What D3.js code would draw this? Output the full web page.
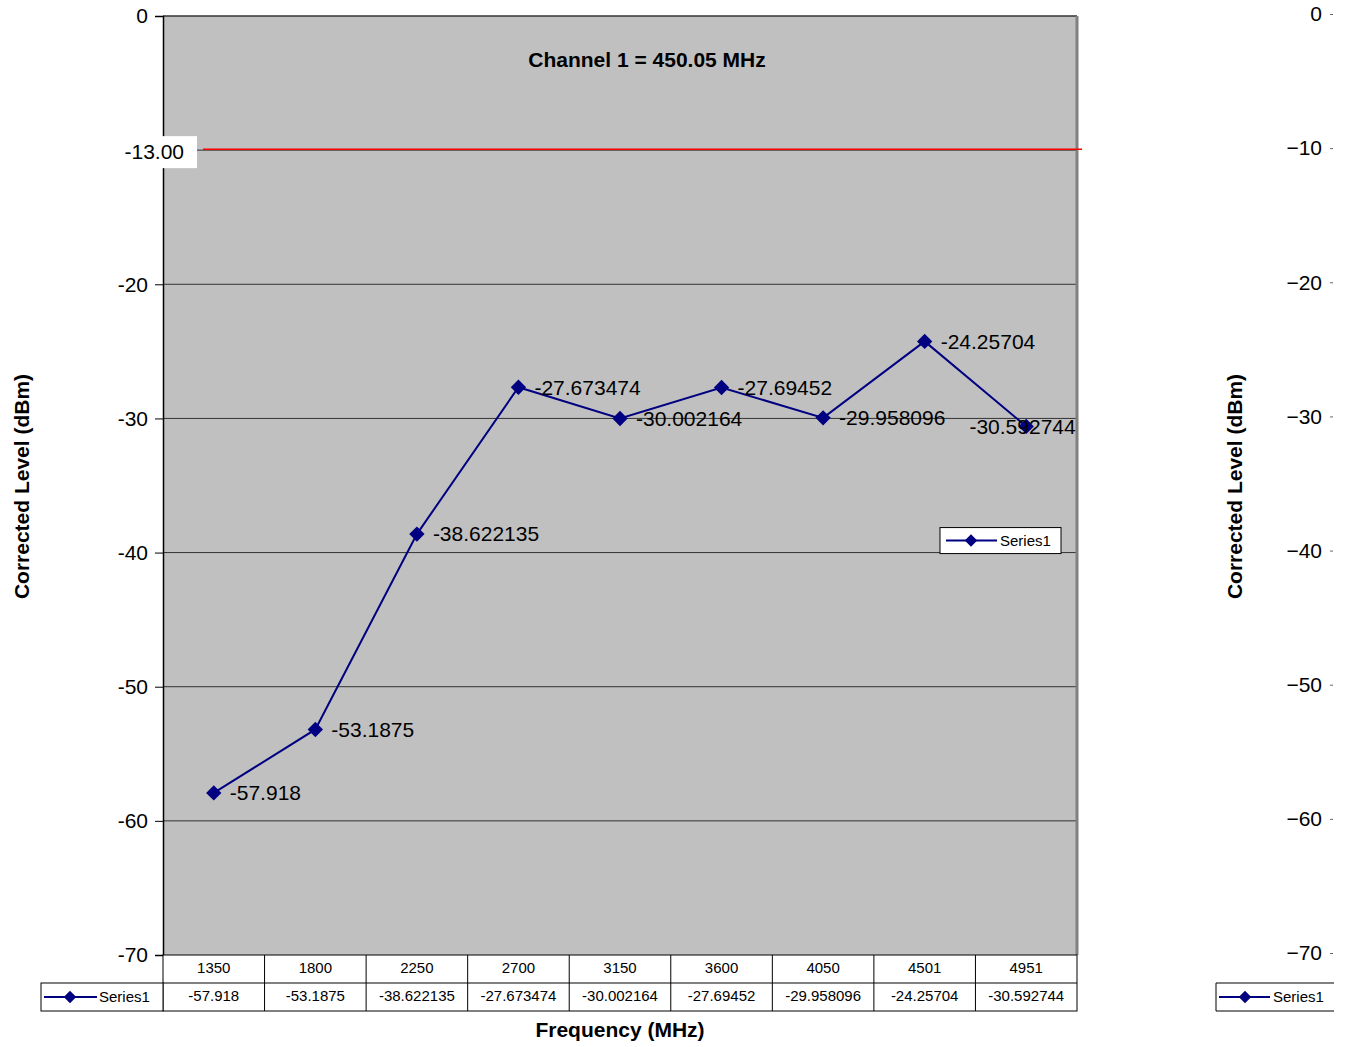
<!DOCTYPE html>
<html>
<head>
<meta charset="utf-8">
<script src="https://cdn.jsdelivr.net/npm/d3@7"></script>
<style>
  body { margin: 0; background: #fff; }
  text { font-family: "Liberation Sans", Arial, sans-serif; }
</style>
</head>
<body>
<script>
// chart data
var frequencies = ["1350", "1800", "2250", "2700", "3150", "3600", "4050", "4501", "4951"]
var levels = [-57.918, -53.1875, -38.622135, -27.673474, -30.002164, -27.69452, -29.958096, -24.25704, -30.592744]
var levelLabels = ["-57.918", "-53.1875", "-38.622135", "-27.673474", "-30.002164", "-27.69452", "-29.958096", "-24.25704", "-30.592744"]
var yTicks = [0, -10, -20, -30, -40, -50, -60, -70]
var limitTick = -10          // tick where the limit line sits
var limitLabel = "-13.00"
var seriesName = "Series1"
var chartTitle = "Channel 1 = 450.05 MHz"

var W = 1347, H = 1047
var margin = {top: 16, left: 163, right: 270, bottom: 92}
var width = W - margin.left - margin.right,
    height = H - margin.top - margin.bottom

var navy = "#000080"
var big = "21px", small = "15px"

var svg = d3.select("body").append("svg")
    .attr("width", W).attr("height", H)

var g = svg.append("g")
    .attr("transform", "translate(" + margin.left + "," + margin.top + ")")

var x = d3.scaleBand().domain(frequencies).range([0, width])
var y = d3.scaleLinear().domain([-70, 0]).range([height, 0])

// plot area
g.append("rect")
    .attr("width", width).attr("height", height)
    .attr("fill", "#c0c0c0")

// gridlines
g.append("g").selectAll("line")
    .data(yTicks.filter(d => d != 0 && d != -70))
    .enter().append("line")
    .attr("x1", 0).attr("x2", width)
    .attr("y1", d => y(d)).attr("y2", d => y(d))
    .attr("stroke", "#333").attr("stroke-width", 1)

// borders
g.append("line").attr("x1", 0).attr("x2", width).attr("y1", 0).attr("y2", 0)
    .attr("stroke", "#333").attr("stroke-width", 1.5)
g.append("line").attr("x1", width).attr("x2", width).attr("y1", 0).attr("y2", height)
    .attr("stroke", "#808080").attr("stroke-width", 3)

// left axis
var yAxis = d3.axisLeft(y).tickValues(yTicks).tickSize(8).tickFormat(d3.format("d"))
var ya = g.append("g").call(yAxis)
ya.select(".domain").attr("stroke", "#000").attr("stroke-width", 1.5)
ya.selectAll(".tick line").attr("stroke", "#000")
ya.selectAll(".tick text")
    .attr("x", -15)
    .style("font-size", big)
    .style("font-family", "Liberation Sans, Arial, sans-serif")
    .attr("fill", "#000")
    .text(d => d == limitTick ? "" : String(d))

// limit line + label
g.append("line")
    .attr("x1", 40).attr("x2", width + 5)
    .attr("y1", y(limitTick) - 1).attr("y2", y(limitTick) - 1)
    .attr("stroke", "#ff0000").attr("stroke-width", 1.5)
g.append("rect")
    .attr("x", -55).attr("y", y(limitTick) - 14)
    .attr("width", 89).attr("height", 32)
    .attr("fill", "#fff")
g.append("text")
    .attr("x", 21).attr("y", y(limitTick) + 2)
    .attr("dy", "0.35em")
    .attr("text-anchor", "end")
    .style("font-size", big)
    .text(limitLabel)

// title
g.append("text")
    .attr("x", width / 2 + 27).attr("y", 44)
    .attr("dy", "0.35em")
    .attr("text-anchor", "middle")
    .style("font-size", big).style("font-weight", "bold")
    .text(chartTitle)

// series line
var cx = d => x(d) + x.bandwidth() / 2
var pts = frequencies.map((f, i) => ({f: f, v: levels[i], label: levelLabels[i]}))

g.append("path")
    .datum(pts)
    .attr("fill", "none")
    .attr("stroke", navy)
    .attr("stroke-width", 2)
    .attr("d", d3.line().x(d => cx(d.f)).y(d => y(d.v)))

var diamond = d3.symbol().type(d3.symbolDiamond2).size(150)
g.selectAll(".pt").data(pts).enter().append("path")
    .attr("transform", d => "translate(" + cx(d.f) + "," + y(d.v) + ")")
    .attr("d", diamond)
    .attr("fill", navy)

// data labels
g.selectAll(".lbl").data(pts).enter().append("text")
    .style("font-size", big)
    .attr("y", d => y(d.v))
    .attr("dy", "0.35em")
    .attr("x", d => cx(d.f) + 16)
    .text(d => d.label)
    .each(function() {
        var bb = this.getBBox()
        if (bb.x + bb.width > width - 1) d3.select(this).attr("x", width - 1 - bb.width)
    })

// in-plot legend
var lg = g.append("g").attr("transform", "translate(" + (width - 137) + "," + (y(-40) - 25) + ")")
lg.append("rect").attr("width", 121).attr("height", 26)
    .attr("fill", "#fff").attr("stroke", "#000").attr("stroke-width", 1)
lg.append("line").attr("x1", 6).attr("x2", 57).attr("y1", 13).attr("y2", 13)
    .attr("stroke", navy).attr("stroke-width", 2)
lg.append("path").attr("transform", "translate(31,13)").attr("d", d3.symbol().type(d3.symbolDiamond2).size(100)).attr("fill", navy)
lg.append("text").attr("x", 60).attr("y", 13).attr("dy", "0.35em")
    .style("font-size", small).text(seriesName)

// data table
var rowH = 28
var tbl = g.append("g").attr("transform", "translate(0," + height + ")")
tbl.append("rect").attr("x", 0).attr("y", 0).attr("width", width).attr("height", rowH * 2)
    .attr("fill", "#fff").attr("stroke", "#000")
tbl.append("rect").attr("x", 41 - margin.left).attr("y", rowH).attr("width", margin.left - 41).attr("height", rowH)
    .attr("fill", "#fff").attr("stroke", "#000")
tbl.append("line").attr("x1", 0).attr("x2", width).attr("y1", rowH).attr("y2", rowH).attr("stroke", "#000")
tbl.selectAll(".vl").data(frequencies.slice(1)).enter().append("line")
    .attr("x1", d => x(d)).attr("x2", d => x(d))
    .attr("y1", 0).attr("y2", rowH * 2).attr("stroke", "#000")
tbl.selectAll(".hd").data(frequencies).enter().append("text")
    .attr("x", d => cx(d)).attr("y", rowH / 2 - 1).attr("dy", "0.35em")
    .attr("text-anchor", "middle").style("font-size", small)
    .text(d => d)
tbl.selectAll(".vv").data(pts).enter().append("text")
    .attr("x", d => cx(d.f)).attr("y", rowH * 1.5 - 1).attr("dy", "0.35em")
    .attr("text-anchor", "middle").style("font-size", small)
    .text(d => d.label)
var tl = tbl.append("g").attr("transform", "translate(" + (44 - margin.left) + "," + (rowH * 1.5) + ")")
tl.append("line").attr("x1", 0).attr("x2", 53).attr("y1", 0).attr("y2", 0).attr("stroke", navy).attr("stroke-width", 2)
tl.append("path").attr("transform", "translate(26,0)").attr("d", d3.symbol().type(d3.symbolDiamond2).size(100)).attr("fill", navy)
tl.append("text").attr("x", 55).attr("y", 0).attr("dy", "0.35em").style("font-size", small).text(seriesName)

// axis titles
svg.append("text")
    .attr("transform", "translate(29," + (margin.top + height / 2 + 1) + ") rotate(-90)")
    .attr("text-anchor", "middle")
    .style("font-size", big).style("font-weight", "bold")
    .text("Corrected Level (dBm)")
svg.append("text")
    .attr("x", 620).attr("y", 1037)
    .attr("text-anchor", "middle")
    .style("font-size", big).style("font-weight", "bold")
    .text("Frequency (MHz)")

// second (right) copy of the axis, clipped by the page edge
var r = svg.append("g").attr("transform", "translate(1333," + (margin.top - 2) + ")")
var rAxis = d3.axisLeft(y).tickValues(yTicks).tickSize(3).tickFormat(d3.format("d"))
var ra = r.call(rAxis)
ra.select(".domain").remove()
ra.selectAll(".tick line").attr("stroke", "#666")
ra.selectAll(".tick text").attr("x", -11).style("font-size", big)
    .style("font-family", "Liberation Sans, Arial, sans-serif").attr("fill", "#000")
svg.append("text")
    .attr("transform", "translate(1242," + (margin.top + height / 2 + 1) + ") rotate(-90)")
    .attr("text-anchor", "middle")
    .style("font-size", big).style("font-weight", "bold")
    .text("Corrected Level (dBm)")
var rl = svg.append("g").attr("transform", "translate(1216," + (margin.top + height + rowH) + ")")
rl.append("path").attr("d", "M" + 118 + ",0H0V" + rowH + "H118").attr("fill", "#fff").attr("stroke", "#000")
rl.append("line").attr("x1", 3).attr("x2", 54).attr("y1", rowH / 2).attr("y2", rowH / 2).attr("stroke", navy).attr("stroke-width", 2)
rl.append("path").attr("transform", "translate(29," + rowH / 2 + ")").attr("d", d3.symbol().type(d3.symbolDiamond2).size(100)).attr("fill", navy)
rl.append("text").attr("x", 57).attr("y", rowH / 2).attr("dy", "0.35em").style("font-size", small).text(seriesName)
</script>
</body>
</html>
